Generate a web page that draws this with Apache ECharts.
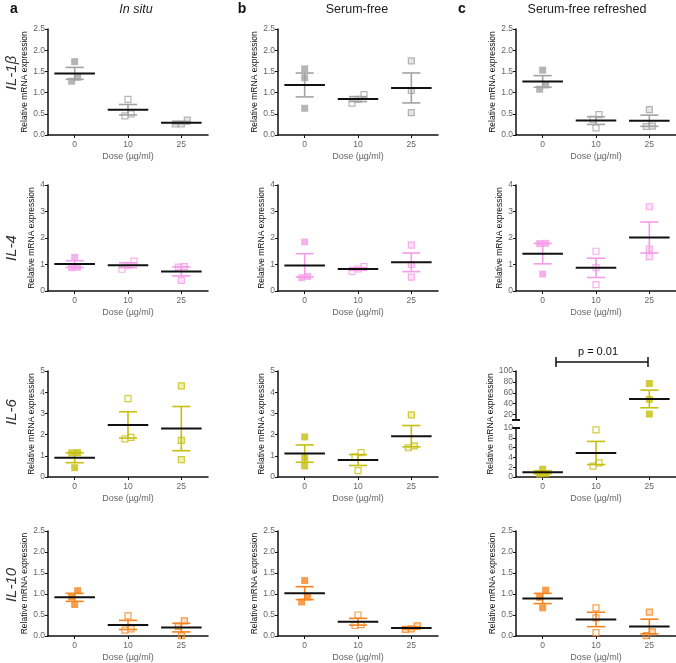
<!DOCTYPE html>
<html>
<head>
<meta charset="utf-8">
<script src="https://cdn.jsdelivr.net/npm/echarts@6/dist/echarts.min.js"></script>
<style>
  html, body { margin: 0; padding: 0; background: #fff; }
  #main { width: 676px; height: 663px; }
</style>
</head>
<body>
<div id="main"></div>
<script>
// categories
var doses = ['0', '10', '25'];
var genes = ['IL-1β', 'IL-4', 'IL-6', 'IL-10'];
var conditions = ['In situ', 'Serum-free', 'Serum-free refreshed'];
var panelLetters = ['a', 'b', 'c'];
var yMax = [2.5, 4, 5, 2.5];
var yStep = [0.5, 1, 1, 0.5];
// broken axis of IL-6 / serum-free refreshed
var brokenHighTicks = [20, 40, 60, 80, 100];
var pLabel = 'p = 0.01';

// replicates, per condition: [dose 0, dose 10, dose 25]
var il1b = [
  [[1.73, 1.27, 1.36], [0.84, 0.50, 0.45], [0.35, 0.26, 0.26]],
  [[1.56, 1.35, 0.63], [0.95, 0.84, 0.75], [1.75, 1.05, 0.53]],
  [[1.53, 1.18, 1.08], [0.48, 0.37, 0.17], [0.60, 0.21, 0.20]]
];
var il4 = [
  [[1.27, 0.88, 0.90], [1.13, 0.97, 0.82], [0.92, 0.90, 0.40]],
  [[1.85, 0.50, 0.55], [0.92, 0.83, 0.74], [1.73, 1.00, 0.52]],
  [[1.80, 1.79, 0.64], [1.50, 0.88, 0.24], [3.18, 1.58, 1.30]]
];
var il6 = [
  [[1.15, 1.14, 0.44], [3.70, 1.80, 1.87], [4.30, 1.73, 0.82]],
  [[1.89, 0.90, 0.52], [1.15, 0.95, 0.30], [2.93, 1.38, 1.47]],
  [[1.6, 0.6, 0.7], [9.6, 2.2, 2.9], [77, 48, 21]]
];
var il10 = [
  [[1.08, 0.93, 0.75], [0.48, 0.14, 0.17], [0.36, 0.23, 0.01]],
  [[1.32, 0.93, 0.81], [0.50, 0.25, 0.27], [0.24, 0.16, 0.17]],
  [[1.09, 0.92, 0.67], [0.67, 0.43, 0.08], [0.57, 0.10, 0.01]]
];
var allGenes = [il1b, il4, il6, il10];
var geneColors = ['#a3a3a3', '#f49ce6', '#c5bf0e', '#f5841f'];

var FONT = 'Liberation Sans, Arial, sans-serif';
var colLeft = [48, 278, 516];
var rowTop = [29, 185, 371, 531];
var gridW = 160, gridH = 106;

function meanSem(vals) {
  var n = vals.length, m = 0, ss = 0;
  vals.forEach(function (v) { m += v; });
  m /= n;
  vals.forEach(function (v) { ss += (v - m) * (v - m); });
  return [m, Math.sqrt(ss / (n - 1)) / Math.sqrt(n)];
}

// spread points that would overlap, like a column scatter
function jitter(vals, range) {
  var idx = vals.map(function (v, i) { return i; }).sort(function (a, b) { return vals[a] - vals[b]; });
  var off = vals.map(function () { return 0; });
  var cluster = [idx[0]];
  function flush() {
    var n = cluster.length;
    if (n > 1) cluster.forEach(function (k, j) { off[k] = (j - (n - 1) / 2) * 6; });
  }
  for (var i = 1; i < idx.length; i++) {
    if (vals[idx[i]] - vals[idx[i - 1]] < range * 0.07) cluster.push(idx[i]);
    else { flush(); cluster = [idx[i]]; }
  }
  flush();
  return off;
}

function markerStyle(d, color, forceFill) {
  if (d === 0 || forceFill) return { color: color, borderWidth: 0 };
  if (d === 1) return { color: '#fff', borderColor: color, borderWidth: 1.2 };
  return { color: echarts.color.modifyAlpha(color, 0.35), borderColor: color, borderWidth: 1.2 };
}

function renderBars(color) {
  return function (params, api) {
    var x = api.value(0), m = api.value(1), s = api.value(2);
    var c = api.coord([x, m]);
    var hi = api.coord([x, m + s]);
    var lo = api.coord([x, m - s]);
    var band = api.size([1, 0])[0];
    var half = band * 0.38, cap = band * 0.17;
    var st = { stroke: color, lineWidth: 1.6 };
    return {
      type: 'group',
      children: [
        { type: 'line', shape: { x1: c[0], y1: hi[1], x2: c[0], y2: lo[1] }, style: st },
        { type: 'line', shape: { x1: c[0] - cap, y1: hi[1], x2: c[0] + cap, y2: hi[1] }, style: st },
        { type: 'line', shape: { x1: c[0] - cap, y1: lo[1], x2: c[0] + cap, y2: lo[1] }, style: st },
        { type: 'line', shape: { x1: c[0] - half, y1: c[1], x2: c[0] + half, y2: c[1] },
          style: { stroke: '#111', lineWidth: 2 } }
      ]
    };
  };
}

var grids = [], xAxes = [], yAxes = [], series = [];

function axisBase() {
  return {
    axisLine: { show: true, lineStyle: { color: '#111', width: 1.5 } },
    axisTick: { show: true, length: 3, lineStyle: { color: '#111', width: 1 } },
    splitLine: { show: false }
  };
}

function addGrid(top, left, height, opts) {
  var gi = grids.length;
  grids.push({ left: left, top: top, width: gridW, height: height });
  var xa = Object.assign(axisBase(), {
    gridIndex: gi, type: 'category', data: doses,
    axisTick: { show: true, alignWithLabel: true, length: 3, lineStyle: { color: '#111' } },
    axisLabel: { color: '#666', fontSize: 8.5, margin: 5, fontFamily: FONT },
    name: 'Dose (µg/ml)', nameLocation: 'middle', nameGap: 17,
    nameTextStyle: { color: '#666', fontSize: 9, fontFamily: FONT }
  });
  if (opts.hideX) xa.show = false;
  xAxes.push(xa);
  var ya = Object.assign(axisBase(), {
    gridIndex: gi, type: 'value', min: opts.min, max: opts.max,
    axisLabel: { color: '#666', fontSize: 8.5, margin: 3, fontFamily: FONT, formatter: opts.fmt }
  });
  if (opts.interval) ya.interval = opts.interval;
  if (opts.ticks) {
    ya.axisLabel.customValues = opts.ticks;
    ya.axisTick.customValues = opts.ticks;
  }
  if (opts.name) {
    ya.name = 'Relative mRNA expression';
    ya.nameLocation = 'middle';
    ya.nameGap = opts.nameGap;
    ya.nameTextStyle = { color: '#111', fontSize: 8.5, fontFamily: FONT };
  }
  yAxes.push(ya);
  return gi;
}

function addSeries(gi, groups, doseIdx, color, range, forceFill) {
  var pts = [], bars = [];
  doseIdx.forEach(function (d) {
    var vals = groups[d];
    var off = jitter(vals, range);
    vals.forEach(function (v, k) {
      pts.push({
        value: [d, v],
        symbolOffset: [off[k], 0],
        symbolSize: d === 0 || forceFill ? 7 : 6,
        itemStyle: markerStyle(d, color, forceFill)
      });
    });
    var ms = meanSem(vals);
    bars.push([d, ms[0], ms[1]]);
  });
  series.push({
    type: 'scatter', xAxisIndex: gi, yAxisIndex: gi, symbol: 'rect',
    data: pts, z: 2, silent: true
  });
  series.push({
    type: 'custom', xAxisIndex: gi, yAxisIndex: gi, renderItem: renderBars(color),
    data: bars, z: 3, silent: true, clip: false
  });
}

genes.forEach(function (g, r) {
  conditions.forEach(function (cond, c) {
    var groups = allGenes[r][c];
    var color = geneColors[r];
    var decimals = yStep[r] < 1;
    var fmt = decimals ? function (v) { return v.toFixed(1); } : function (v) { return String(v); };
    if (r === 2 && c === 2) {
      var top = addGrid(rowTop[r], colLeft[c], 49, {
        min: 10, max: 100, ticks: brokenHighTicks, hideX: true, fmt: fmt
      });
      var bot = addGrid(rowTop[r] + 57, colLeft[c], 49, {
        min: 0, max: 10, interval: 2, fmt: fmt
      });
      addSeries(bot, groups, [0, 1], color, 10, false);
      addSeries(top, groups, [2], color, 90, true);
    } else {
      var gi = addGrid(rowTop[r], colLeft[c], gridH, {
        min: 0, max: yMax[r], interval: yStep[r], fmt: fmt,
        name: true, nameGap: decimals ? 19 : 12
      });
      addSeries(gi, groups, [0, 1, 2], color, yMax[r], false);
    }
  });
});

var graphics = [];
var titleX = [136, 357, 587];
conditions.forEach(function (cond, c) {
  graphics.push({
    type: 'text', x: titleX[c], y: 10,
    style: { text: cond, fontSize: 12.5, fontStyle: c === 0 ? 'italic' : 'normal',
      fontFamily: FONT, fill: '#222', align: 'center', verticalAlign: 'middle' }
  });
  graphics.push({
    type: 'text', x: [14, 242, 462][c], y: 9,
    style: { text: panelLetters[c], fontSize: 14, fontWeight: 'bold',
      fontFamily: FONT, fill: '#111', align: 'center', verticalAlign: 'middle' }
  });
});
var geneY = [73, 248, 412, 585];
genes.forEach(function (g, r) {
  graphics.push({
    type: 'text', x: 12, y: geneY[r], rotation: Math.PI / 2,
    style: { text: g, fontSize: 15, fontStyle: 'italic', fontFamily: FONT,
      fill: '#333', align: 'center', verticalAlign: 'middle' }
  });
});
// y name and axis break of the split panel
graphics.push({
  type: 'text', x: 491, y: 424, rotation: Math.PI / 2,
  style: { text: 'Relative mRNA expression', fontSize: 8.5, fontFamily: FONT,
    fill: '#111', align: 'center', verticalAlign: 'middle' }
});
[420, 428].forEach(function (y) {
  graphics.push({
    type: 'line', shape: { x1: 512, y1: y, x2: 520, y2: y },
    style: { stroke: '#111', lineWidth: 2 }
  });
});
// significance bracket
graphics.push({ type: 'line', shape: { x1: 556, y1: 362, x2: 648, y2: 362 }, style: { stroke: '#111', lineWidth: 1.5 } });
graphics.push({ type: 'line', shape: { x1: 556, y1: 357, x2: 556, y2: 367 }, style: { stroke: '#111', lineWidth: 1.5 } });
graphics.push({ type: 'line', shape: { x1: 648, y1: 357, x2: 648, y2: 367 }, style: { stroke: '#111', lineWidth: 1.5 } });
graphics.push({
  type: 'text', x: 598, y: 352,
  style: { text: pLabel, fontSize: 11, fontFamily: FONT, fill: '#111', align: 'center', verticalAlign: 'middle' }
});

var myChart = echarts.init(document.getElementById('main'));
myChart.setOption({
  animation: false,
  textStyle: { fontFamily: FONT },
  grid: grids,
  xAxis: xAxes,
  yAxis: yAxes,
  series: series,
  graphic: graphics
});
</script>
</body>
</html>
